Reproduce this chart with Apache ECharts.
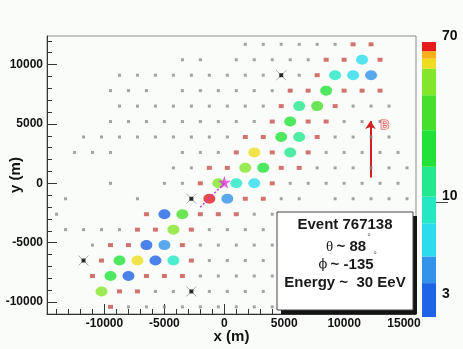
<!DOCTYPE html>
<html>
<head>
<meta charset="utf-8">
<script src="https://cdn.jsdelivr.net/npm/echarts@6/dist/echarts.min.js"></script>
<style>
  html, body { margin: 0; padding: 0; background: #fafcfa; }
  #chart { width: 463px; height: 349px; }
</style>
</head>
<body>
<div id="chart"></div>
<script>
// detector rows (y in km) and the station x positions (km) on each row
const rowY = [11.7, 10.4, 9.1, 7.8, 6.5, 5.2, 3.9, 2.6, 1.3, 0, -1.3, -2.6, -3.9, -5.2, -6.5, -7.8, -9.1, -10.4]
const grayX = [
  [1.75, 3.25, 4.75, 6.25, 7.75, 9.25],
  [-3.5, -2.0, 1.0, 2.5, 4.0, 5.5, 7.0],
  [-8.75, -7.25, -5.75, -4.25, -2.75, -1.25, 0.25, 1.75, 3.25, 6.25],
  [-9.5, -8.0, -6.5, -3.5, -2.0, -0.5, 1.0, 2.5, 4.0],
  [-8.75, -7.25, -5.75, -4.25, -2.75, -1.25, 0.25, 1.75, 3.25, 10.75, 12.25, 13.75],
  [-9.5, -8.0, -6.5, -5.0, -3.5, -2.0, -0.5, 1.0, 2.5, 10.0, 11.5, 13.0],
  [-11.75, -10.25, -8.75, -7.25, -5.75, -4.25, -2.75, -1.25, 0.25, 9.25, 10.75, 12.25, 13.75],
  [-12.5, -11.0, -9.5, -3.5, -2.0, -0.5, 8.5, 10.0, 11.5, 13.0, 14.5],
  [-4.25, -2.75, 7.75, 9.25, 10.75, 12.25, 13.75, 15.25],
  [-9.5, -5.0, -3.5, 5.5, 7.0, 8.5, 10.0, 11.5, 13.0, 14.5],
  [-13.25, -7.25, 4.75, 6.25, 9.25, 10.75, 12.25, 13.75, 15.25],
  [-14.0, 2.5, 4.0],
  [-13.25, -11.75, -10.25, -8.75, -1.25, 0.25, 1.75, 3.25],
  [-11.0, -2.0, -0.5, 1.0, 2.5, 4.0],
  [-1.25, 0.25, 1.75, 3.25],
  [-2.0, -0.5, 1.0, 2.5, 4.0],
  [-5.75, -4.25, -1.25, 0.25, 1.75, 3.25],
  [-8.0, -6.5, -5.0, -3.5, -2.0, -0.5, 1.0, 2.5, 4.0]
]
const redX = [
  [10.75, 12.25],
  [8.5, 10.0, 13.0],
  [7.75],
  [5.5, 7.0, 10.0, 11.5, 13.0],
  [4.75, 9.25],
  [4.0, 7.0, 8.5],
  [1.75, 3.25, 7.75],
  [1.0, 4.0, 7.0],
  [-1.25, 0.25, 4.75, 6.25],
  [-2.0, 4.0],
  [1.75, 3.25],
  [-6.5, -2.0, -0.5, 1.0],
  [-7.25, -5.75, -2.75],
  [-9.5, -8.0, -3.5],
  [-10.25, -2.75],
  [-11.0, -6.5, -5.0, -3.5],
  [-8.75, -7.25],
  [-9.5]
]
// triggered stations: x (km), y (km), signal
const hits = [
  [11.5, 10.4, 6.5],
  [9.25, 9.1, 9], [10.75, 9.1, 6.5], [12.25, 9.1, 4.5],
  [8.5, 7.8, 20],
  [6.25, 6.5, 12], [7.75, 6.5, 30],
  [5.5, 5.2, 20],
  [4.75, 3.9, 20], [6.25, 3.9, 12],
  [2.5, 2.6, 55], [5.5, 2.6, 12],
  [1.75, 1.3, 45], [3.25, 1.3, 20],
  [-0.5, 0, 45], [1.0, 0, 8.5], [2.5, 0, 7],
  [-1.25, -1.3, 68], [0.25, -1.3, 4.5],
  [-5.0, -2.6, 3.5], [-3.5, -2.6, 30],
  [-4.25, -3.9, 45],
  [-6.5, -5.2, 3.0], [-5.0, -5.2, 4.5],
  [-8.75, -6.5, 20], [-7.25, -6.5, 55], [-5.75, -6.5, 3.3], [-4.25, -6.5, 9],
  [-9.5, -7.8, 22], [-8.0, -7.8, 3.3],
  [-10.25, -9.1, 40]
]
const badStations = [[4.75, 9.1], [-2.75, -1.3], [-11.75, -6.5], [-2.75, -9.1]]
const core = [0, 0.1]
const showerAxis = [[0, 0], [-2.1, -2.1]]
const bArrow = [[12.2, 0.5], [12.2, 5.25]]
const bLabel = [13.4, 4.85]

const xTicks = [-10000, -5000, 0, 5000, 10000, 15000]
const yTicks = [-10000, -5000, 0, 5000, 10000]
const zEdges = [2.48, 3.75, 5.19, 7.78, 10.76, 15.5, 24.2, 37.1, 51.3, 57.9, 63.5, 71]
const zColors = ['#1f63e6', '#3393ea', '#2cdcec', '#24e8c4', '#24e88e', '#22e23a', '#46e02c', '#84e62a', '#f0dc1e', '#f7b01c', '#e51c1c']
const zTicks = [3, 10, 70]
const zMinor = [3, 4, 5, 6, 7, 8, 9, 20, 30, 40, 50, 60, 70]

const range = (a, b, s) => { const r = []; for (let v = a; v <= b; v += s) r.push(v); return r }
const xMinor = range(-14000, 16000, 1000)
const yMinor = range(-11000, 12000, 1000)

const toPts = (rows) => {
  const out = []
  rows.forEach((xs, i) => xs.forEach(x => out.push([x * 1000, rowY[i] * 1000])))
  return out
}
const m = (p) => [p[0] * 1000, p[1] * 1000]
const plain = (v) => String(v)

const font = 'Liberation Sans'
const chart = echarts.init(document.getElementById('chart'))

const bands = zColors.map((c, i) => [{ yAxis: zEdges[i], itemStyle: { color: c } }, { yAxis: zEdges[i + 1] }])

const option = {
  animation: false,
  backgroundColor: '#fafcfa',
  textStyle: { fontFamily: font },
  grid: [
    { left: 47, top: 36, width: 369, height: 278, show: true, borderColor: '#8a8a8a', borderWidth: 1, backgroundColor: 'transparent', containLabel: false, outerBoundsMode: 'none' },
    { left: 422, top: 42, width: 14, height: 275, containLabel: false, outerBoundsMode: 'none' }
  ],
  xAxis: [
    {
      type: 'value', min: -14800, max: 16000, position: 'bottom',
      axisLine: { onZero: false, lineStyle: { color: '#333' } },
      axisTick: { inside: true, length: 10, customValues: xTicks, lineStyle: { color: '#333' } },
      axisLabel: { customValues: xTicks, formatter: plain, fontWeight: 'bold', fontSize: 12, color: '#111', margin: 4 },
      splitLine: { show: false },
      name: 'x (m)', nameLocation: 'middle', nameGap: 15, nameMoveOverlap: false,
      nameTextStyle: { fontWeight: 'bold', fontSize: 15, color: '#111' }
    },
    {
      type: 'value', min: -14800, max: 16000, position: 'bottom',
      axisLine: { show: false, onZero: false },
      axisTick: { inside: true, length: 5, customValues: xMinor, lineStyle: { color: '#333' } },
      axisLabel: { show: false }, splitLine: { show: false }
    },
    { gridIndex: 1, type: 'value', min: 0, max: 1, show: false }
  ],
  yAxis: [
    {
      type: 'value', min: -11000, max: 12400, position: 'left',
      axisLine: { show: true, onZero: false, lineStyle: { color: '#333' } },
      axisTick: { show: true, inside: true, length: 10, customValues: yTicks, lineStyle: { color: '#333' } },
      axisLabel: { customValues: yTicks, formatter: plain, fontWeight: 'bold', fontSize: 12, color: '#111', margin: 4 },
      splitLine: { show: false },
      name: 'y (m)', nameLocation: 'middle', nameGap: 24, nameMoveOverlap: false,
      nameTextStyle: { fontWeight: 'bold', fontSize: 15, color: '#111' }
    },
    {
      type: 'value', min: -11000, max: 12400, position: 'left',
      axisLine: { show: false, onZero: false },
      axisTick: { show: true, inside: true, length: 5, customValues: yMinor, lineStyle: { color: '#333' } },
      axisLabel: { show: false }, splitLine: { show: false }
    },
    {
      gridIndex: 1, type: 'log', min: 2.48, max: 71, position: 'right',
      axisLine: { show: false },
      axisTick: { show: true, length: 4, customValues: zMinor, lineStyle: { color: '#444' } },
      axisLabel: { customValues: zTicks, fontWeight: 'bold', fontSize: 14, color: '#111', margin: 6, verticalAlign: 'bottom' },
      splitLine: { show: false }
    },
    {
      gridIndex: 1, type: 'log', min: 2.48, max: 71, position: 'right',
      axisLine: { show: false },
      axisTick: { show: true, length: 12, customValues: [10], lineStyle: { color: '#444' } },
      axisLabel: { show: false }, splitLine: { show: false }
    }
  ],
  visualMap: {
    type: 'piecewise', show: false, seriesIndex: 2, dimension: 2,
    pieces: zColors.map((c, i) => ({ min: zEdges[i], max: zEdges[i + 1], color: c }))
  },
  series: [
    {
      type: 'scatter', data: toPts(grayX), symbol: 'rect', symbolSize: 3,
      itemStyle: { color: '#8c8c8c' }, silent: true
    },
    {
      type: 'scatter', data: toPts(redX), symbol: 'rect', symbolSize: [5, 4],
      itemStyle: { color: '#c8504b' }, silent: true
    },
    {
      type: 'scatter', data: hits.map(h => [h[0] * 1000, h[1] * 1000, h[2]]),
      symbol: 'circle', symbolSize: [12, 10], silent: true
    },
    {
      type: 'scatter', data: badStations.map(m), symbol: 'path://M0,0L10,10M10,0L0,10', symbolSize: 10,
      itemStyle: { color: 'transparent', borderColor: '#999', borderWidth: 1 }, silent: true
    },
    {
      type: 'scatter', data: badStations.map(m), symbol: 'rect', symbolSize: 4,
      itemStyle: { color: '#000' }, silent: true
    },
    {
      type: 'line', data: showerAxis.map(m), symbol: 'none',
      lineStyle: { color: '#c040d0', width: 1.5, type: [2, 2] }, silent: true
    },
    {
      type: 'scatter', data: [m(core)], symbolSize: 13,
      symbol: 'path://M50,0L61,35L98,35L68,57L79,91L50,70L21,91L32,57L2,35L39,35Z',
      itemStyle: { color: '#e030e0' }, silent: true
    },
    {
      type: 'lines', coordinateSystem: 'cartesian2d', silent: true,
      data: [{ coords: bArrow.map(m) }],
      symbol: ['none', 'arrow'], symbolSize: 8,
      lineStyle: { color: '#d42020', width: 2, opacity: 1 }
    },
    {
      type: 'scatter', data: [m(bLabel)], symbolSize: 0, silent: true,
      label: {
        show: true, position: 'inside', formatter: 'B', fontSize: 12, fontWeight: 'bold',
        color: '#fbe6e6', textBorderColor: '#d42020', textBorderWidth: 1.2
      }
    },
    {
      type: 'scatter', xAxisIndex: 2, yAxisIndex: 2, data: [[0.5, 10]], symbolSize: 0, silent: true,
      markArea: { silent: true, data: bands }
    }
  ],
  graphic: [
    { type: 'rect', z: 100, shape: { x: 281, y: 216, width: 136, height: 98 }, style: { fill: '#141414' } },
    { type: 'rect', z: 101, shape: { x: 277, y: 212, width: 136, height: 98 }, style: { fill: '#ffffff', stroke: '#444', lineWidth: 1 } },
    {
      type: 'text', z: 102, x: 345, y: 225,
      style: { text: 'Event 767138', font: 'bold 15px "Liberation Sans"', fill: '#1a1a1a', textAlign: 'center', textVerticalAlign: 'middle' }
    },
    {
      type: 'text', z: 102, x: 346, y: 247,
      style: {
        text: '{s|θ} {b|~ 88}', textAlign: 'center', textVerticalAlign: 'middle',
        rich: {
          s: { fontFamily: 'Liberation Serif', fontSize: 15, fill: '#1a1a1a' },
          b: { fontFamily: font, fontWeight: 'bold', fontSize: 15, fill: '#1a1a1a' }
        }
      }
    },
    { type: 'text', z: 102, x: 369, y: 238, style: { text: '°', font: '9px "Liberation Sans"', fill: '#555', textAlign: 'center', textVerticalAlign: 'middle' } },
    {
      type: 'text', z: 102, x: 346, y: 265,
      style: {
        text: '{s|ϕ} {b|~ -135}', textAlign: 'center', textVerticalAlign: 'middle',
        rich: {
          s: { fontFamily: 'DejaVu Serif', fontSize: 13, fill: '#1a1a1a' },
          b: { fontFamily: font, fontWeight: 'bold', fontSize: 15, fill: '#1a1a1a' }
        }
      }
    },
    { type: 'text', z: 102, x: 375, y: 256, style: { text: '°', font: '9px "Liberation Sans"', fill: '#555', textAlign: 'center', textVerticalAlign: 'middle' } },
    {
      type: 'text', z: 102, x: 345, y: 283,
      style: { text: 'Energy ~  30 EeV', font: 'bold 15px "Liberation Sans"', fill: '#1a1a1a', textAlign: 'center', textVerticalAlign: 'middle' }
    }
  ]
}
chart.setOption(option)
</script>
</body>
</html>
